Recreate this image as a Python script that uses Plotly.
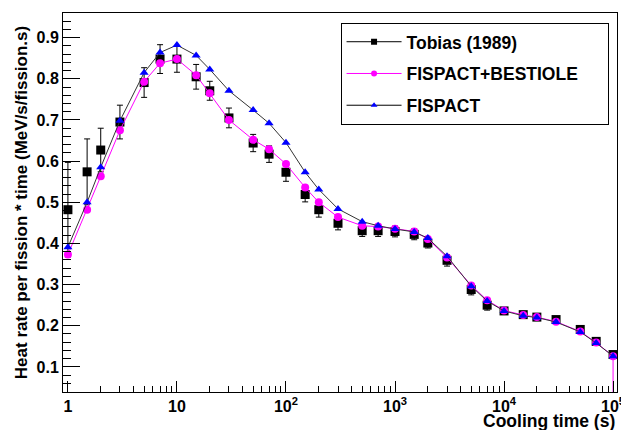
import plotly.graph_objects as go

# cooling times (s)
t = [1, 1.5, 2, 3, 5, 7, 10, 15, 20, 30, 50, 70, 100, 150, 200, 300, 500, 700,
     1000, 1500, 2000, 3000, 5000, 7000, 1e4, 1.5e4, 2e4, 3e4, 5e4, 7e4, 1e5]

tobias = [0.482, 0.574, 0.627, 0.695, 0.791, 0.848, 0.848, 0.805, 0.771, 0.705, 0.644,
          0.617, 0.573, 0.519, 0.482, 0.449, 0.431, 0.431, 0.429, 0.422, 0.401, 0.359,
          0.288, 0.250, 0.236, 0.227, 0.221, 0.215, 0.191, 0.162, 0.130]
tobias_err = [0.115, 0.080, 0.053, 0.041, 0.036, 0.035, 0.032, 0.030, 0.023, 0.024, 0.021,
              0.020, 0.022, 0.018, 0.018, 0.016, 0.014, 0.014, 0.013, 0.013, 0.012, 0.014,
              0.013, 0.012, 0.008, 0.007, 0.007, 0.007, 0.007, 0.007, 0.008]

# FISPACT+BESTIOLE, last point drops to zero at 1e5
t_best = t + [1e5]
bestiole = [0.373, 0.482, 0.563, 0.675, 0.793, 0.838, 0.848, 0.809, 0.765, 0.700, 0.652,
            0.629, 0.593, 0.536, 0.500, 0.464, 0.443, 0.441, 0.436, 0.429, 0.411, 0.366,
            0.298, 0.262, 0.237, 0.226, 0.221, 0.210, 0.186, 0.159, 0.126, 0.0]

fispact = [0.391, 0.500, 0.585, 0.698, 0.815, 0.864, 0.882, 0.857, 0.823, 0.771, 0.724,
           0.692, 0.645, 0.573, 0.531, 0.484, 0.453, 0.443, 0.435, 0.428, 0.413, 0.369,
           0.296, 0.260, 0.236, 0.224, 0.220, 0.209, 0.185, 0.158, 0.126]

x_tickvals = [1, 10, 100, 1000, 1e4, 1e5]
x_ticktext = ["1", "10", "10<sup>2</sup>", "10<sup>3</sup>", "10<sup>4</sup>", "10<sup>5</sup>"]
y_tickvals = [0.1, 0.2, 0.3, 0.4, 0.5, 0.6, 0.7, 0.8, 0.9]

fnt = "Liberation Sans, Arial, sans-serif"

fig = go.Figure()

# data points (no line, like ROOT "P")
fig.add_trace(go.Scatter(x=t, y=tobias, mode="markers", showlegend=False,
                         marker=dict(symbol="square", size=9, color="black"),
                         error_y=dict(type="data", array=tobias_err, color="black",
                                      thickness=1, width=3)))
fig.add_trace(go.Scatter(x=t_best, y=bestiole, mode="lines+markers", showlegend=False,
                         line=dict(color="#ff00ff", width=1),
                         marker=dict(symbol="circle", size=8, color="#ff00ff")))
fig.add_trace(go.Scatter(x=t, y=fispact, mode="lines+markers", showlegend=False,
                         line=dict(color="#333333", width=1),
                         marker=dict(symbol="triangle-up", size=8, color="#0000ff")))

# legend entries
pad = "\u00a0" * 5
fig.add_trace(go.Scatter(x=[None], y=[None], mode="lines+markers", name="Tobias (1989)",
                         legendgroup="a", line=dict(color="black", width=1),
                         marker=dict(symbol="square", size=6, color="black")))
fig.add_trace(go.Scatter(x=[None], y=[None], mode="lines+markers",
                         name="FISPACT+BESTIOLE" + pad,
                         legendgroup="b", line=dict(color="#ff00ff", width=1),
                         marker=dict(symbol="circle", size=6, color="#ff00ff")))
fig.add_trace(go.Scatter(x=[None], y=[None], mode="lines+markers", name="FISPACT",
                         legendgroup="c", line=dict(color="black", width=1),
                         marker=dict(symbol="triangle-up", size=6, color="#0000ff")))

fig.update_xaxes(type="log", range=[-0.045, 5.036], showgrid=False, zeroline=False,
                 showline=True, linecolor="black", linewidth=1, mirror=True,
                 ticks="inside", ticklen=11, tickcolor="black",
                 tickvals=x_tickvals, ticktext=x_ticktext, ticklabeloverflow="allow",
                 tickfont=dict(family=fnt, size=16, color="black", weight="bold"),
                 minor=dict(ticks="inside", ticklen=6, tickcolor="black", dtick="D1"))
fig.update_yaxes(range=[0.039, 0.96], showgrid=False, zeroline=False,
                 showline=True, linecolor="black", linewidth=1, mirror=True,
                 ticks="inside", ticklen=17, tickcolor="black",
                 tickvals=y_tickvals, tickformat=".1f",
                 tickfont=dict(family=fnt, size=16, color="black", weight="bold"),
                 minor=dict(ticks="inside", ticklen=8, tickcolor="black", dtick=0.02),
                 title=dict(text="Heat rate per fission * time (MeV/s/fission.s)",
                            font=dict(family=fnt, size=17, color="black", weight="bold"),
                            standoff=4))

fig.add_annotation(text="Cooling time (s)", xref="paper", yref="paper", x=1.0, y=-0.077,
                   xanchor="right", yanchor="middle", showarrow=False,
                   font=dict(family=fnt, size=17.5, color="black", weight="bold"))

# page body has an 8px margin, so the figure is shrunk by that much
fig.update_layout(
    width=621, height=422,
    margin=dict(l=55, r=7, t=4, b=38),
    plot_bgcolor="white", paper_bgcolor="white",
    legend=dict(x=0.501, y=0.974, xanchor="left", yanchor="top",
                bgcolor="white", bordercolor="black", borderwidth=1,
                font=dict(family=fnt, size=17.5, color="black", weight="bold"),
                tracegroupgap=6, itemwidth=55),
)

fig.write_html("out.html")
